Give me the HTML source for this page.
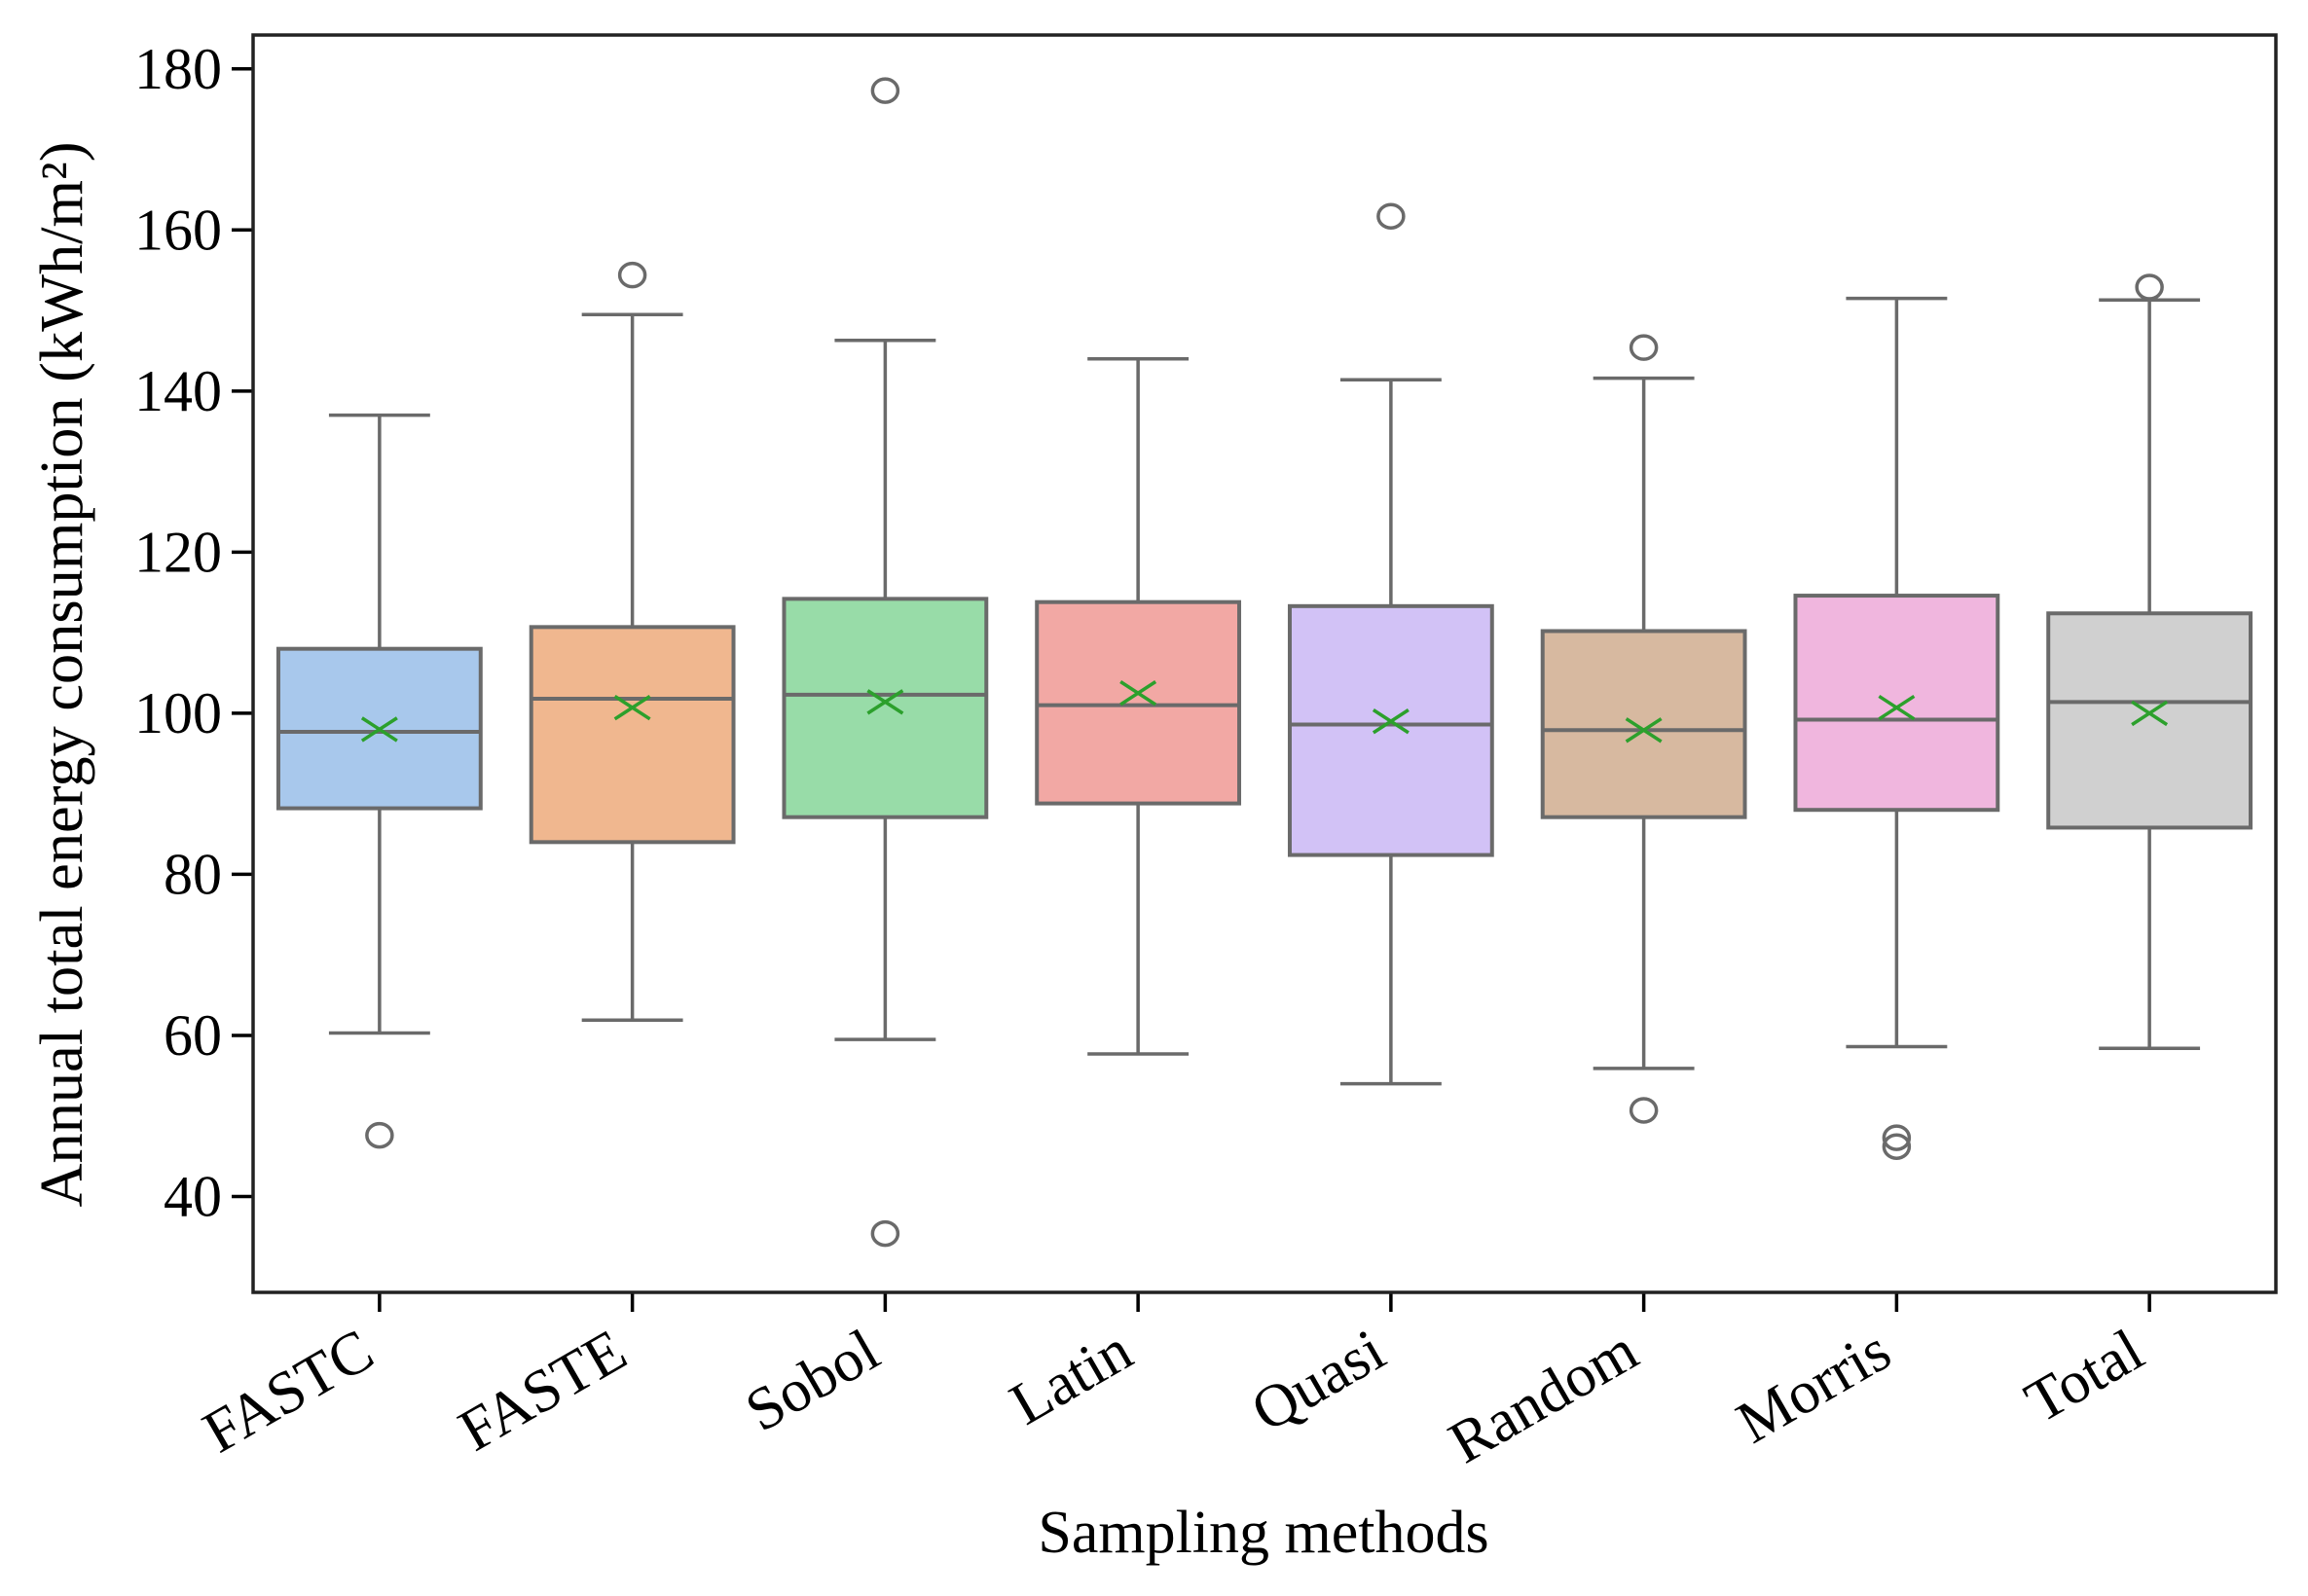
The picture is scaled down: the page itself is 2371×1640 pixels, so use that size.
<!DOCTYPE html>
<html><head><meta charset="utf-8"><style>
html,body{margin:0;padding:0;background:#fff;}
svg{display:block;font-family:"Liberation Serif",serif;}
</style></head><body>
<svg id="chart" width="2371" height="1640" viewBox="0 0 2371 1640" xmlns="http://www.w3.org/2000/svg"></svg>
<script>
const categories=["FASTC","FASTE","Sobol","Latin","Quasi","Random","Morris","Total"];
const whiskerLow=[60.3,61.9,59.5,57.7,54.0,55.9,58.6,58.4];
const q1=[88.2,84.0,87.1,88.8,82.4,87.1,88.0,85.8];
const medians=[97.7,101.8,102.3,101.0,98.6,97.9,99.2,101.4];
const q3=[108.0,110.7,114.2,113.8,113.3,110.2,114.6,112.4];
const whiskerHigh=[137.0,149.5,146.3,144.0,141.4,141.6,151.5,151.3];
const means=[98.0,100.7,101.4,102.5,99.0,97.9,100.7,100.0];
const outliers=[[47.6],[154.4],[177.3,35.4],[],[161.7],[145.4,50.7],[47.3,46.2],[152.9]];
const yTicks=[40,60,80,100,120,140,160,180];
const colors=["#a8c8ec","#f0b78f","#98dca8","#f2a8a4","#d2c2f6","#d7b9a0","#f0b6de","#d0d0d0"];

const L=260,R=2338,T=36,B=1328,yMin=28.1,yMax=184.2;
const NS="http://www.w3.org/2000/svg";
const svg=document.getElementById('chart');
function y(v){return B-(v-yMin)/(yMax-yMin)*(B-T);}
const step=(R-L)/categories.length;
function x(i){return L+step*(i+0.5);}
const bw=step*0.8;
function el(t,a,p){const e=document.createElementNS(NS,t);for(const k in a)e.setAttribute(k,a[k]);(p||svg).appendChild(e);return e;}
const gray="#6a6a6a";
categories.forEach((c,i)=>{
  const g=el('g',{});
  
  
  const cx=x(i);
  el('line',{x1:cx,x2:cx,y1:y(q3[i]),y2:y(whiskerHigh[i]),stroke:gray,'stroke-width':3.5},g);
  el('line',{x1:cx,x2:cx,y1:y(q1[i]),y2:y(whiskerLow[i]),stroke:gray,'stroke-width':3.5},g);
  el('line',{x1:cx-bw/4,x2:cx+bw/4,y1:y(whiskerHigh[i]),y2:y(whiskerHigh[i]),stroke:gray,'stroke-width':3.5},g);
  el('line',{x1:cx-bw/4,x2:cx+bw/4,y1:y(whiskerLow[i]),y2:y(whiskerLow[i]),stroke:gray,'stroke-width':3.5},g);
  el('rect',{x:cx-bw/2,y:y(q3[i]),width:bw,height:y(q1[i])-y(q3[i]),fill:colors[i],stroke:gray,'stroke-width':4},g);
  el('line',{x1:cx-bw/2,x2:cx+bw/2,y1:y(medians[i]),y2:y(medians[i]),stroke:gray,'stroke-width':4},g);
  const my=y(means[i]),d=18;
  const m=el('path',{d:`M${cx-d},${my-d*0.65}L${cx+d},${my+d*0.65}M${cx-d},${my+d*0.65}L${cx+d},${my-d*0.65}`,stroke:"#2ca02c",'stroke-width':3.5,fill:'none'},g);
  
  
  outliers[i].forEach(v=>{
    const o=el('ellipse',{cx:cx,cy:y(v),rx:13,ry:12,fill:'none',stroke:gray,'stroke-width':3.5},g);
    
    
  });
  el('line',{x1:cx,x2:cx,y1:B,y2:B+20,stroke:'#000','stroke-width':3.5},g);
  const t=el('text',{x:0,y:0,'font-size':62,'text-anchor':'end',transform:`translate(${cx-2},${B+72}) rotate(-30)`},g);
  t.textContent=c;
  
  
});
yTicks.forEach(v=>{
  el('line',{x1:L-22,x2:L,y1:y(v),y2:y(v),stroke:'#000','stroke-width':3.5});
  const t=el('text',{x:L-32,y:y(v)+20,'font-size':60,'text-anchor':'end'});
  t.textContent=v;
  
  
});
const fr=el('rect',{x:L,y:T,width:R-L,height:B-T,fill:'none',stroke:'#222','stroke-width':3.5});


const yt=el('text',{x:0,y:0,'font-size':62,'text-anchor':'middle',textLength:1095,lengthAdjust:'spacingAndGlyphs',transform:`translate(84,${693}) rotate(-90)`});
yt.textContent="Annual total energy consumption (kWh/m²)";


const xt=el('text',{x:1298,y:1595,'font-size':62,'text-anchor':'middle'});
xt.textContent="Sampling methods";


</script>
</body></html>
